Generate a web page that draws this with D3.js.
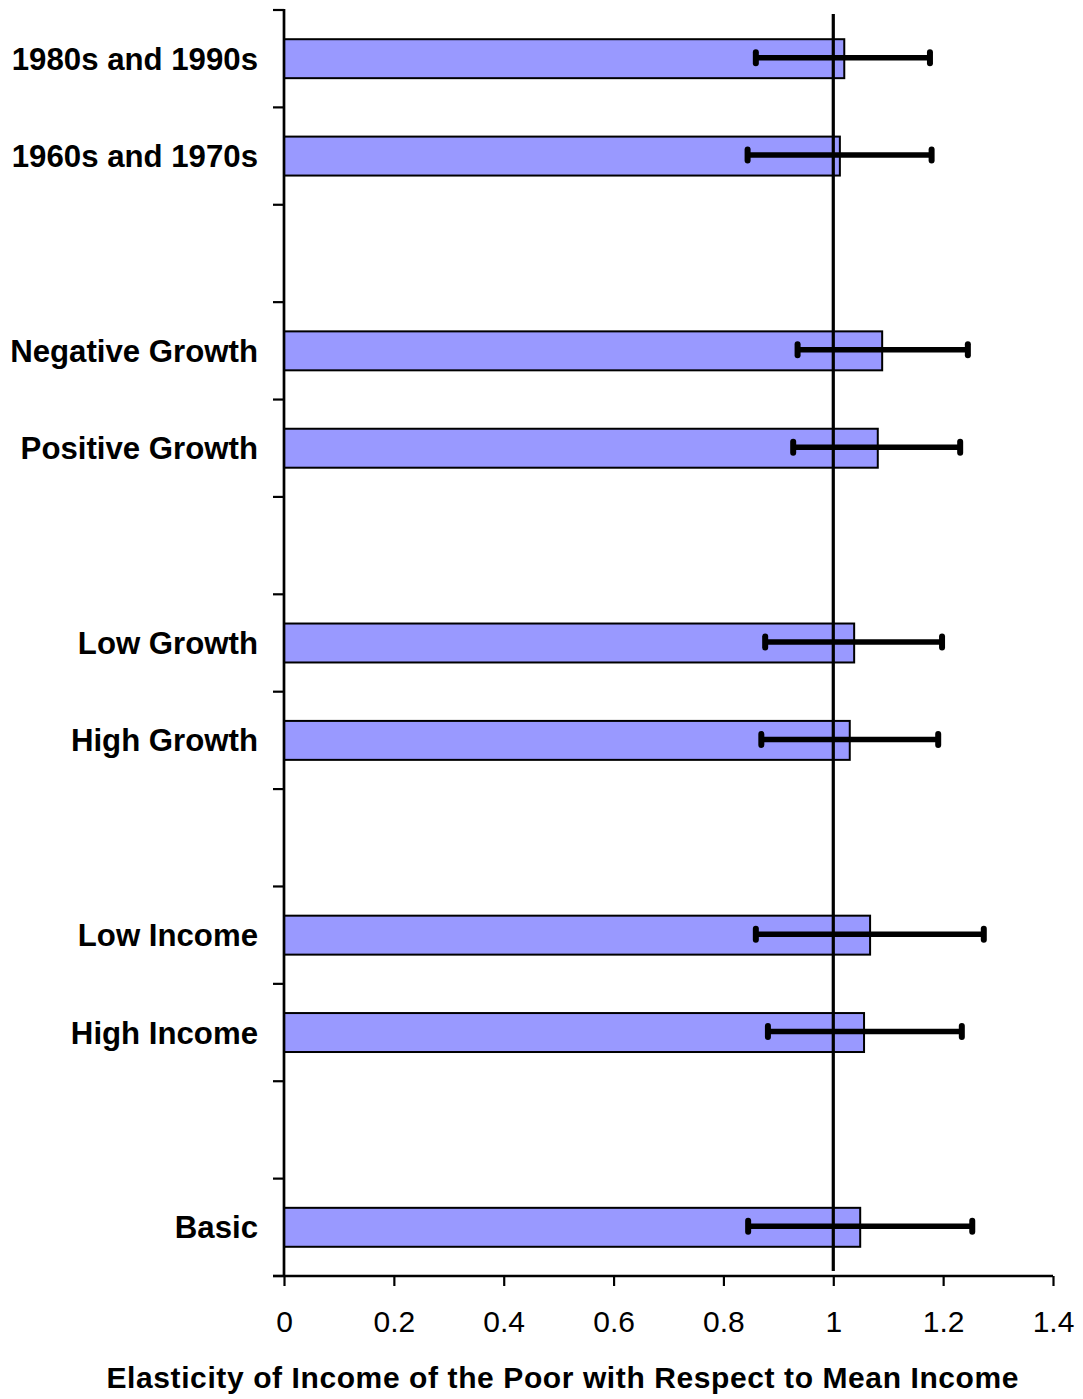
<!DOCTYPE html>
<html>
<head>
<meta charset="utf-8">
<script src="https://cdn.jsdelivr.net/npm/d3@7/dist/d3.min.js"></script>
<style>
  html, body { margin: 0; padding: 0; background: #fff; }
  svg { display: block; }
  text { font-family: "Liberation Sans", Arial, Helvetica, sans-serif; fill: #000; }
</style>
</head>
<body>
<svg id="chart" width="1083" height="1399"></svg>
<script>
// ---- data ----
const slots = ["1980s and 1990s", "1960s and 1970s", "gap1", "Negative Growth", "Positive Growth", "gap2",
               "Low Growth", "High Growth", "gap3", "Low Income", "High Income", "gap4", "Basic"];
const categories = ["1980s and 1990s", "1960s and 1970s", "Negative Growth", "Positive Growth",
                    "Low Growth", "High Growth", "Low Income", "High Income", "Basic"];
const elasticity = [1.020, 1.012, 1.089, 1.081, 1.038, 1.030, 1.067, 1.056, 1.049];
const lowerCI    = [0.859, 0.844, 0.935, 0.927, 0.876, 0.869, 0.859, 0.881, 0.845];
const upperCI    = [1.176, 1.179, 1.245, 1.231, 1.198, 1.191, 1.274, 1.234, 1.253];
const xTicks = [0, 0.2, 0.4, 0.6, 0.8, 1, 1.2, 1.4];
const xTickLabels = ["0", "0.2", "0.4", "0.6", "0.8", "1", "1.2", "1.4"];
const referenceValue = 1;
const xTitle = "Elasticity of Income of the Poor with Respect to Mean Income";

(function () {
const rows = categories.map((c, i) => ({ c, v: elasticity[i], lo: lowerCI[i], hi: upperCI[i] }));

// ---- layout ----
const mLeft = 284, mRight = 1053, mTop = 10, mBottom = 1276;
const svg = d3.select("#chart");

const x = d3.scaleLinear().domain([0, 1.4]).range([mLeft, mRight]);
const y = d3.scaleBand().domain(slots).range([mTop, mBottom]).paddingInner(0.6).paddingOuter(0.3);

// bars
svg.append("g").selectAll("rect").data(rows).join("rect")
  .attr("x", x(0))
  .attr("y", d => y(d.c))
  .attr("width", d => x(d.v) - x(0))
  .attr("height", y.bandwidth())
  .attr("fill", "#9999ff")
  .attr("stroke", "#000")
  .attr("stroke-width", 2);

// reference line
svg.append("line")
  .attr("x1", x(referenceValue)).attr("x2", x(referenceValue))
  .attr("y1", mTop + 4).attr("y2", mBottom - 5)
  .attr("stroke", "#000").attr("stroke-width", 3.2);

// error bars
const eb = svg.append("g");
eb.selectAll("line.err").data(rows).join("line")
  .attr("class", "err")
  .attr("x1", d => x(d.lo)).attr("x2", d => x(d.hi))
  .attr("y1", d => y(d.c) + y.bandwidth() / 2 - 1)
  .attr("y2", d => y(d.c) + y.bandwidth() / 2 - 1)
  .attr("stroke", "#000").attr("stroke-width", 5.5);
const caps = rows.flatMap(d => [{ c: d.c, x: d.lo }, { c: d.c, x: d.hi }]);
eb.selectAll("line.cap").data(caps).join("line")
  .attr("class", "cap")
  .attr("x1", d => x(d.x)).attr("x2", d => x(d.x))
  .attr("y1", d => y(d.c) + y.bandwidth() / 2 - 1 - 5.5)
  .attr("y2", d => y(d.c) + y.bandwidth() / 2 - 1 + 5.5)
  .attr("stroke", "#000").attr("stroke-width", 6).attr("stroke-linecap", "round");

// y axis line and ticks at slot boundaries
const boundaries = d3.range(slots.length + 1).map(i => mTop + i * y.step());
const yAxis = svg.append("g");
yAxis.append("line")
  .attr("x1", mLeft).attr("x2", mLeft).attr("y1", mTop - 1).attr("y2", mBottom + 1)
  .attr("stroke", "#000").attr("stroke-width", 2.7);
yAxis.selectAll("line.tick").data(boundaries).join("line")
  .attr("class", "tick")
  .attr("x1", mLeft - 11).attr("x2", mLeft)
  .attr("y1", d => d).attr("y2", d => d)
  .attr("stroke", "#000").attr("stroke-width", 2.2);

// category labels
svg.append("g").selectAll("text").data(rows).join("text")
  .attr("x", 258)
  .attr("y", d => y(d.c) + y.bandwidth() / 2 + 11)
  .attr("text-anchor", "end")
  .attr("font-size", 31.2)
  .attr("font-weight", "bold")
  .text(d => d.c);

// x axis
const xAxis = d3.axisBottom(x).tickValues(xTicks).tickSize(10).tickPadding(0)
  .tickFormat((d, i) => xTickLabels[i]);
const gx = svg.append("g").attr("transform", `translate(0,${mBottom})`).call(xAxis);
gx.select(".domain").attr("stroke-width", 2.7).attr("d", `M${mLeft - 11},0H${mRight}`);
gx.selectAll(".tick line").attr("stroke-width", 2.2);
gx.selectAll(".tick text")
  .attr("y", 56).attr("dy", null)
  .attr("font-size", 30)
  .attr("font-family", "'Liberation Sans', Arial, sans-serif")
  .attr("fill", "#000");

// x title
svg.append("text")
  .attr("x", 562.5)
  .attr("y", 1388)
  .attr("text-anchor", "middle")
  .attr("font-size", 30)
  .attr("font-weight", "bold")
  .attr("textLength", 912)
  .attr("lengthAdjust", "spacing")
  .text(xTitle);
})();
</script>
</body>
</html>
